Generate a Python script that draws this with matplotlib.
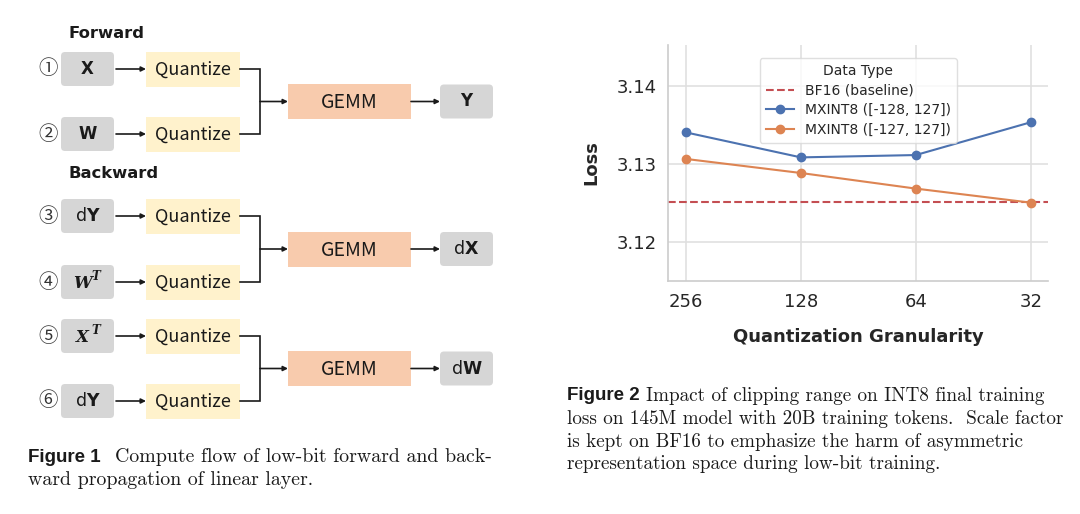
import matplotlib
matplotlib.use("Agg")
import matplotlib.pyplot as plt
from matplotlib.patches import FancyBboxPatch, Rectangle

# ---- chart data (Figure 2) ----
granularity = ["256", "128", "64", "32"]
loss_int8_128 = [3.1341, 3.1309, 3.1312, 3.1354]
loss_int8_127 = [3.1307, 3.1289, 3.1269, 3.1251]
bf16_loss = 3.1252
series_labels = ["BF16 (baseline)", "MXINT8 ([-128, 127])", "MXINT8 ([-127, 127])"]
y_ticks = [3.12, 3.13, 3.14]

# ---- flow diagram data (Figure 1) ----
circled = ["\u2460", "\u2461", "\u2462", "\u2463", "\u2464", "\u2465"]
inputs = ["X", "W", "dY", "WT", "XT", "dY"]
outputs = ["Y", "dX", "dW"]
sections = ["Forward", "Backward"]

caption1 = ["Compute flow of low-bit forward and back-",
            "ward propagation of linear layer."]
caption2 = ["Impact of clipping range on INT8 final training",
            "loss on 145M model with 20B training tokens.  Scale factor",
            "is kept on BF16 to emphasize the harm of asymmetric",
            "representation space during low-bit training."]

GRAY = "#d6d6d6"
YELLOW = "#fff2cc"
PEACH = "#f8cbad"
INK = "#1a1a1a"
SERIF = ["cmr10", "DejaVu Serif"]
BOXFONT = ["Noto Sans CJK SC", "DejaVu Sans"]

fig = plt.figure(figsize=(10.8, 5.14), dpi=100)
bg = fig.add_axes([0, 0, 1, 1])
bg.set_xlim(0, 1080)
bg.set_ylim(514, 0)
bg.axis("off")


def box(x0, x1, yc, h, color, rounded=False):
    if rounded:
        p = FancyBboxPatch((x0 + 4, yc - h / 2 + 4), x1 - x0 - 8, h - 8,
                           boxstyle="round,pad=4", fc=color, ec="none")
    else:
        p = Rectangle((x0, yc - h / 2), x1 - x0, h, fc=color, ec="none")
    bg.add_patch(p)


def arrow(x0, x1, y):
    bg.annotate("", xy=(x1, y), xytext=(x0, y),
                arrowprops=dict(arrowstyle="-|>", color=INK, lw=1.2,
                                mutation_scale=7, shrinkA=0, shrinkB=0))


def input_label(name, xc, yc):
    if name in ("X", "W", "Y"):
        bg.text(xc, yc, name, ha="center", va="center", fontsize=12,
                fontweight="bold", color=INK, family="DejaVu Sans")
    elif name.startswith("d"):
        bg.text(xc, yc, "d" + "$\\mathbf{" + name[1] + "}$", ha="center",
                va="center", fontsize=12.5, color=INK, family="DejaVu Sans")
    else:
        bg.text(xc - 5, yc + 1, name[0], ha="center", va="center", fontsize=12,
                fontweight="bold", style="italic", family="DejaVu Serif", color=INK)
        bg.text(xc + 8, yc - 5, name[1], ha="center", va="center", fontsize=8.5,
                fontweight="bold", style="italic", family="DejaVu Serif", color=INK)


row_y = [69, 134, 216, 282, 336, 401]
section_y = [33, 174]
for s, sy in zip(sections, section_y):
    bg.text(68, sy, s, ha="left", va="center", fontsize=11.8, fontweight="bold",
            color=INK, family="DejaVu Sans")

for i, (num, name, yc) in enumerate(zip(circled, inputs, row_y)):
    bg.text(48, yc, num, ha="center", va="center", fontsize=14, color="#333333",
            family=BOXFONT)
    box(61, 114, yc, 34, GRAY, rounded=True)
    input_label(name, 87.5, yc)
    arrow(116, 146, yc)
    box(146, 240, yc, 35, YELLOW)
    bg.text(193, yc + 1, "Quantize", ha="center", va="center", fontsize=13,
            color=INK, family=BOXFONT)

for k, out in enumerate(outputs):
    ya, yb = row_y[2 * k], row_y[2 * k + 1]
    gy = (ya + yb) / 2
    bg.plot([240, 260, 260, 240], [ya, ya, yb, yb], color=INK, lw=1.2,
            solid_joinstyle="miter")
    arrow(260, 288, gy)
    box(288, 411, gy, 35, PEACH)
    bg.text(349.5, gy + 1, "GEMM", ha="center", va="center", fontsize=14,
            color=INK, family=BOXFONT)
    arrow(411, 440, gy)
    box(440, 493, gy, 34, GRAY, rounded=True)
    input_label(out, 466.5, gy)

# captions
bg.text(28, 457, "Figure 1", ha="left", va="center", fontsize=13.5,
        fontweight="bold", family="Liberation Sans", color=INK)
bg.text(115, 457, caption1[0], ha="left", va="center", fontsize=14.3,
        family=SERIF, color=INK)
bg.text(28, 480, caption1[1], ha="left", va="center", fontsize=14.3,
        family=SERIF, color=INK)

bg.text(567, 396, "Figure 2", ha="left", va="center", fontsize=13.5,
        fontweight="bold", family="Liberation Sans", color=INK)
bg.text(646, 396, caption2[0], ha="left", va="center", fontsize=13.8,
        family=SERIF, color=INK)
for j, line in enumerate(caption2[1:]):
    bg.text(567, 419 + 22.7 * j, line, ha="left", va="center", fontsize=13.8,
            family=SERIF, color=INK)

# ---- Figure 2 chart ----
ax = fig.add_axes([668.3 / 1080, 1 - 280.7 / 514, 380 / 1080, 235.7 / 514])
x = range(len(granularity))
ax.axhline(bf16_loss, color="#c44e52", ls="--", lw=1.5, label=series_labels[0])
ax.plot(x, loss_int8_128, "-o", color="#4c72b0", lw=1.5, ms=6,
        label=series_labels[1])
ax.plot(x, loss_int8_127, "-o", color="#dd8452", lw=1.5, ms=6,
        label=series_labels[2])
ax.set_xlim(-0.154, 3.153)
ax.set_ylim(3.1151, 3.1453)
ax.set_xticks(list(x))
ax.set_xticklabels(granularity)
ax.set_yticks(y_ticks)
ax.set_yticklabels([f"{v:.2f}" for v in y_ticks])
ax.grid(True, color="#e0e0e0", lw=1.2)
ax.set_axisbelow(True)
for side in ("top", "right"):
    ax.spines[side].set_visible(False)
for side in ("left", "bottom"):
    ax.spines[side].set_color("#cccccc")
    ax.spines[side].set_linewidth(1.2)
ax.tick_params(length=0, labelsize=13, labelcolor="#262626")
ax.tick_params(axis="y", pad=8)
ax.tick_params(axis="x", pad=9)
ax.set_ylabel("Loss", fontsize=13, fontweight="bold", color="#262626", labelpad=12)
ax.set_xlabel("Quantization Granularity", fontsize=13, fontweight="bold",
              color="#262626", labelpad=12)
leg = ax.legend(title="Data Type", loc="upper center", bbox_to_anchor=(0.5, 0.975),
                fontsize=10, title_fontsize=10, frameon=True, edgecolor="#d8d8d8",
                handlelength=2.0, borderpad=0.45, labelspacing=0.4,
                framealpha=0.8)
leg.get_frame().set_linewidth(1.0)
for t in leg.get_texts():
    t.set_color("#262626")
leg.get_title().set_color("#262626")

fig.savefig("out.png", dpi=100, facecolor="white")
